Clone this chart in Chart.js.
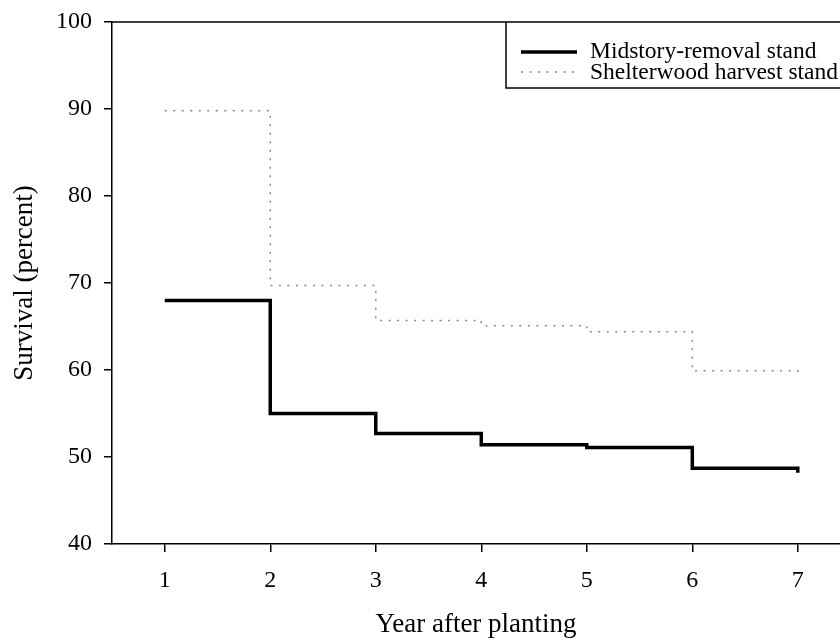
<!DOCTYPE html>
<html>
<head>
<meta charset="utf-8">
<script src="https://cdn.jsdelivr.net/npm/chart.js@4/dist/chart.umd.min.js"></script>
<style>
  html, body { margin: 0; padding: 0; background: #fff; overflow: hidden; }
  #wrap { width: 840px; height: 641px; position: relative; }
</style>
</head>
<body>
<div id="wrap"><canvas id="chart"></canvas></div>
<script>
// survival data
const years = [1, 2, 3, 4, 5, 6, 7];
const midstory = [68.0, 55.0, 52.7, 51.4, 51.1, 48.7, 48.2];
const shelterwood = [89.8, 69.7, 65.7, 65.1, 64.4, 59.9, 59.6];
const yTicks = [40, 50, 60, 70, 80, 90, 100];
const seriesNames = ["Midstory-removal stand", "Shelterwood harvest stand"];

const FONT = "'Liberation Serif', 'Times New Roman', serif";
const dotDash = [2, 6.5];

let toPoints = (vals) => years.map((x, i) => ({x: x, y: vals[i]}));

// frame top line + legend box
const extras = {
    id: "extras",
    afterDraw(chart) {
        const ctx = chart.ctx;
        const a = chart.chartArea;
        ctx.save();
        ctx.strokeStyle = "#000";
        ctx.lineWidth = 1.5;
        ctx.beginPath();
        ctx.moveTo(a.left, a.top);
        ctx.lineTo(a.right, a.top);
        ctx.stroke();

        // legend box
        const bx = 506, by = a.top, bh = 66;
        ctx.beginPath();
        ctx.moveTo(a.right + 5, by + bh);
        ctx.lineTo(bx, by + bh);
        ctx.lineTo(bx, by);
        ctx.stroke();

        ctx.lineWidth = 3.5;
        ctx.beginPath();
        ctx.moveTo(521, 52);
        ctx.lineTo(577, 52);
        ctx.stroke();

        ctx.lineWidth = 1.5;
        ctx.strokeStyle = "#888";
        ctx.setLineDash(dotDash);
        ctx.beginPath();
        ctx.moveTo(521, 72);
        ctx.lineTo(577, 72);
        ctx.stroke();
        ctx.setLineDash([]);

        ctx.fillStyle = "#000";
        ctx.font = "23.5px " + FONT;
        ctx.textBaseline = "middle";
        ctx.fillText(seriesNames[0], 590, 52);
        ctx.fillText(seriesNames[1], 590, 73);
        ctx.restore();
    }
};

new Chart(document.getElementById("chart"), {
    type: "line",
    data: {
        datasets: [{
            label: seriesNames[0],
            data: toPoints(midstory),
            borderColor: "#000",
            borderWidth: 3.5,
            stepped: "before",
            pointRadius: 0,
            fill: false
        }, {
            label: seriesNames[1],
            data: toPoints(shelterwood),
            borderColor: "#888",
            borderWidth: 1.5,
            borderDash: dotDash,
            stepped: "before",
            pointRadius: 0,
            fill: false
        }]
    },
    options: {
        responsive: true,
        maintainAspectRatio: false,
        animation: false,
        layout: {padding: {top: 22, right: 0, left: 9, bottom: 0}},
        plugins: {legend: {display: false}, tooltip: {enabled: false}},
        scales: {
            x: {
                type: "linear",
                min: 0.5,
                max: 7.4,
                afterFit: (s) => { s.height = 97; s.paddingLeft = 0; s.paddingRight = 0; },
                afterBuildTicks: (s) => { s.ticks = years.map(v => ({value: v})); },
                grid: {display: true, drawOnChartArea: false, drawTicks: true, tickLength: 8, color: "#000", lineWidth: 1.5},
                border: {display: true, color: "#000", width: 1.5},
                ticks: {color: "#000", font: {family: FONT, size: 24}, padding: 14, maxRotation: 0},
                title: {display: true, text: "Year after planting", color: "#000", font: {family: FONT, size: 27}, padding: 0}
            },
            y: {
                min: 40,
                max: 100,
                afterFit: (s) => { s.width = 103; s.paddingTop = 0; s.paddingBottom = 0; },
                afterBuildTicks: (s) => { s.ticks = yTicks.map(v => ({value: v})); },
                grid: {display: true, drawOnChartArea: false, drawTicks: true, tickLength: 8, color: "#000", lineWidth: 1.5},
                border: {display: true, color: "#000", width: 1.5},
                ticks: {color: "#000", font: {family: FONT, size: 24}, padding: 12},
                title: {display: true, text: "Survival (percent)", color: "#000", font: {family: FONT, size: 27}, padding: 0}
            }
        }
    },
    plugins: [extras]
});
</script>
</body>
</html>
